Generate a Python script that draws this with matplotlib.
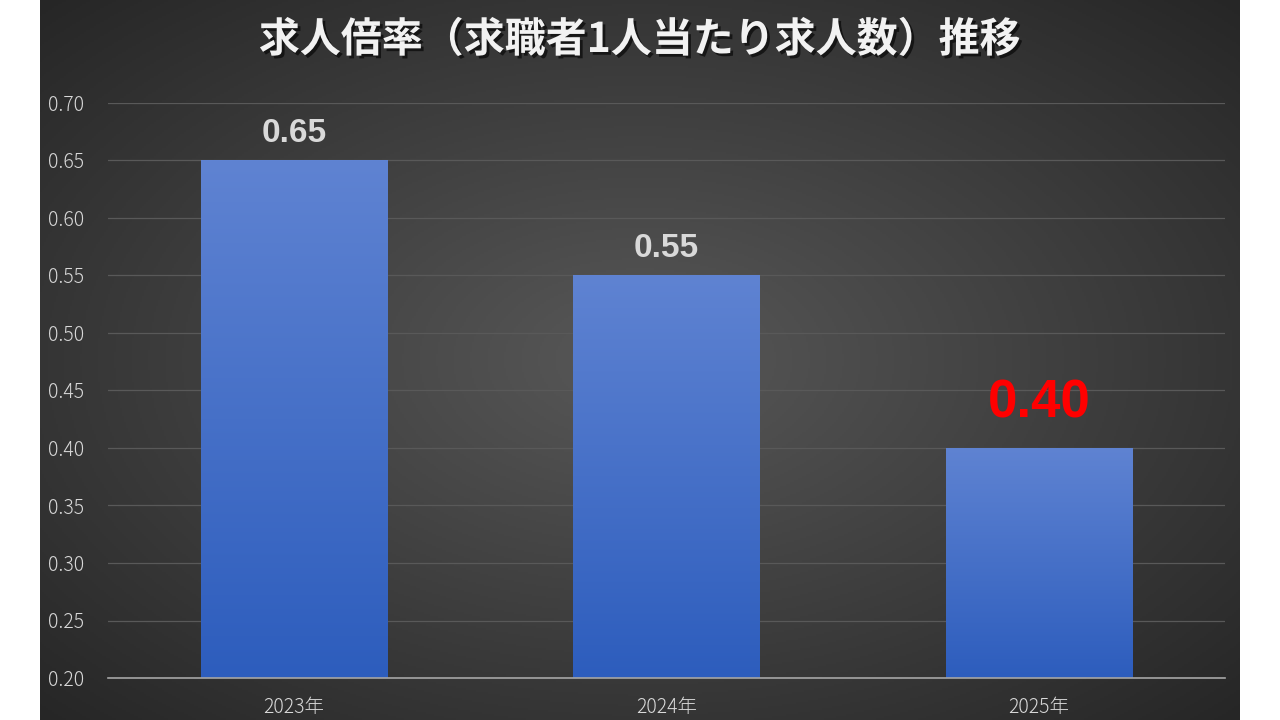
import numpy as np
import matplotlib
matplotlib.use('Agg')
import matplotlib.pyplot as plt
import matplotlib.patheffects as pe

plt.rcParams['font.family'] = ['Noto Sans CJK JP', 'DejaVu Sans']

# data
years = ['2023年', '2024年', '2025年']
ratios = [0.65, 0.55, 0.40]
label_colors = ['#d9d9d9', '#d9d9d9', '#ff0000']
label_sizes = [24, 24, 38]
yticks = [0.20, 0.25, 0.30, 0.35, 0.40, 0.45, 0.50, 0.55, 0.60, 0.65, 0.70]
title = '求人倍率（求職者1人当たり求人数）推移'

W, H = 1280, 720
fig = plt.figure(figsize=(W / 100, H / 100), dpi=100)
fig.patch.set_facecolor('white')

# dark panel with radial gradient
bg = fig.add_axes([40 / W, 0, 1200 / W, 1])
bg.axis('off')
gx, gy = np.meshgrid(np.linspace(-1, 1, 600), np.linspace(-1, 1, 360))
r = np.clip(np.sqrt(gx ** 2 + gy ** 2) / np.sqrt(2), 0, 1)
c_in = np.array([0x58, 0x58, 0x58]) / 255
c_out = np.array([0x26, 0x26, 0x26]) / 255
img = c_in[None, None, :] * (1 - r[..., None]) + c_out[None, None, :] * r[..., None]
bg.imshow(img, extent=[0, 1, 0, 1], aspect='auto')
bg.set_xlim(0, 1)
bg.set_ylim(0, 1)

ax = fig.add_axes([108 / W, 1 - 678 / H, (1225 - 108) / W, (678 - 103) / H])
ax.set_facecolor('none')
x = np.arange(len(years))
bars = ax.bar(x, ratios, width=0.5, color='none', zorder=3)

top_c = np.array([0x5f, 0x83, 0xd2]) / 255
bot_c = np.array([0x2d, 0x5d, 0xbd]) / 255
t = np.linspace(0, 1, 256)[:, None]
grad = (top_c[None, :] * (1 - t) + bot_c[None, :] * t)[:, None, :]
for b in bars:
    x0 = b.get_x()
    im = ax.imshow(grad, extent=[x0, x0 + b.get_width(), 0.2, b.get_height()],
                   aspect='auto', zorder=3)
    im.set_clip_path(b)

for xi, v, c, s in zip(x, ratios, label_colors, label_sizes):
    ax.annotate(f'{v:.2f}', (xi, v), xytext=(0, 8 if s < 30 else 14),
                textcoords='offset points', ha='center', va='bottom', color=c,
                fontsize=s, fontweight='bold', family=['Liberation Sans', 'DejaVu Sans'],
                zorder=4)

ax.set_xlim(-0.5, 2.5)
ax.set_ylim(0.2, 0.7)
ax.set_yticks(yticks)
ax.set_yticklabels([f'{v:.2f}' for v in yticks])
ax.set_xticks(x)
ax.set_xticklabels(years)
ax.grid(axis='y', color='#595959', linewidth=0.9, zorder=0)
ax.set_axisbelow(True)
for sp in ['top', 'right', 'left']:
    ax.spines[sp].set_visible(False)
ax.spines['bottom'].set_color('#a6a6a6')
ax.spines['bottom'].set_linewidth(1.2)
ax.spines['bottom'].set_zorder(5)
ax.tick_params(axis='both', length=0, colors='#d9d9d9', labelsize=14)
ax.tick_params(axis='y', pad=17)
ax.tick_params(axis='x', pad=14)
for lab in ax.get_xticklabels() + ax.get_yticklabels():
    lab.set_fontweight('light')

fig.text(640 / W, 1 - 40 / H, title, ha='center', va='center', color='#f2f2f2',
         fontsize=29.5, fontweight='bold',
         path_effects=[pe.withSimplePatchShadow(offset=(2, -2), shadow_rgbFace='black', alpha=0.6)])

fig.savefig('out.png', dpi=100, facecolor=fig.get_facecolor())
